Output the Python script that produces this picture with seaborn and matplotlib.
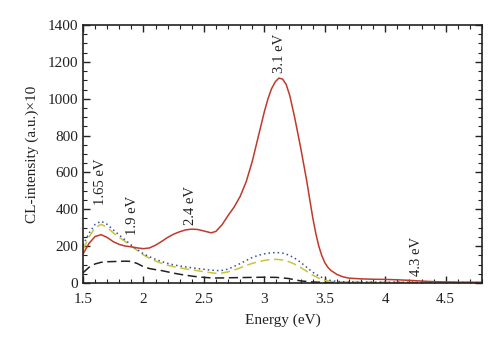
import numpy as np
import pandas as pd
import matplotlib
matplotlib.use("Agg")
import matplotlib.pyplot as plt
from matplotlib.ticker import MultipleLocator
import seaborn as sns

# Photon energy grids (eV) and CL intensities (a.u. x10) for each spectrum
red_x = [1.50, 1.55, 1.60, 1.65, 1.70, 1.75, 1.80, 1.85, 1.90, 1.95, 2.00, 2.05,
         2.10, 2.15, 2.20, 2.25, 2.30, 2.35, 2.40, 2.45, 2.50, 2.56, 2.60, 2.65,
         2.70, 2.75, 2.80, 2.85, 2.90, 2.95, 3.00, 3.03, 3.06, 3.09, 3.12, 3.15,
         3.18, 3.21, 3.25, 3.30, 3.35, 3.375, 3.40, 3.425, 3.45, 3.475, 3.50,
         3.525, 3.55, 3.60, 3.65, 3.70, 3.80, 3.90, 4.00, 4.10, 4.20, 4.30,
         4.40, 4.50, 4.60, 4.80]
red_y = [157, 215, 252, 262, 247, 224, 209, 200, 196, 190, 186, 190,
         205, 225, 247, 265, 278, 288, 292, 290, 282, 272, 280, 316,
         366, 412, 470, 550, 660, 795, 930, 1000, 1055, 1092, 1112, 1107,
         1078, 1018, 900, 735, 555, 455, 355, 270, 200, 148, 110,
         85, 68, 46, 33, 26, 22, 20, 19, 17, 14, 10,
         7, 5, 4, 3]

blue_x = [1.50, 1.55, 1.60, 1.65, 1.70, 1.75, 1.80, 1.85, 1.90, 1.95, 2.00, 2.05,
          2.10, 2.15, 2.20, 2.25, 2.30, 2.35, 2.40, 2.45, 2.50, 2.55, 2.60, 2.65,
          2.70, 2.75, 2.80, 2.85, 2.90, 2.95, 3.00, 3.05, 3.10, 3.15, 3.20, 3.25,
          3.30, 3.35, 3.40, 3.45, 3.50, 3.55, 3.60, 3.70, 4.00, 4.80]
blue_y = [205, 270, 318, 335, 318, 288, 260, 232, 205, 180, 158, 142,
          128, 116, 106, 98, 92, 87, 82, 78, 74, 70, 67, 68,
          75, 90, 105, 122, 138, 150, 158, 163, 165, 162, 152, 135,
          112, 85, 58, 38, 22, 13, 8, 5, 4, 2]

yellow_x = blue_x
yellow_y = [180, 250, 300, 318, 302, 272, 247, 224, 200, 176, 152, 134,
            119, 106, 96, 88, 82, 76, 71, 66, 61, 56, 52, 54,
            60, 70, 82, 95, 106, 115, 122, 127, 128, 125, 116, 102,
            84, 63, 42, 26, 14, 8, 5, 3, 2, 2]

black_x = [1.50, 1.55, 1.60, 1.65, 1.70, 1.75, 1.80, 1.85, 1.90, 1.95, 2.00, 2.05,
           2.10, 2.15, 2.20, 2.25, 2.30, 2.35, 2.40, 2.45, 2.50, 2.55, 2.60, 2.65,
           2.70, 2.80, 2.90, 3.00, 3.10, 3.20, 3.25, 3.30, 3.40, 3.50, 3.60, 4.80]
black_y = [55, 85, 103, 112, 115, 116, 117, 118, 117, 105, 88, 78,
           72, 67, 60, 53, 47, 42, 37, 33, 30, 28, 27, 27,
           28, 29, 30, 31, 30, 24, 17, 11, 5, 3, 2, 1]

# Peak annotations: (energy, text baseline in data units, label)
peak_x = [1.645, 1.91, 2.385, 3.125, 4.26]
peak_y = [425, 262, 317, 1140, 35]
peak_labels = ["1.65 eV", "1.9 eV", "2.4 eV", "3.1 eV", "4.3 eV"]

sns.set_theme(style="ticks")
plt.rcParams["font.family"] = ["Liberation Serif", "DejaVu Serif"]
plt.rcParams["mathtext.fontset"] = "stix"

fig = plt.figure(figsize=(5.0, 3.48), dpi=100)
ax = fig.add_axes([0.166, 0.187, 0.798, 0.741])

series = [
    (black_x, black_y, "#222222", (0, (6, 3))),
    (yellow_x, yellow_y, "#c9c43a", (0, (6, 3))),
    (blue_x, blue_y, "#3a4f9a", (0, (1, 2))),
    (red_x, red_y, "#c0392b", "-"),
]
for xs, ys, col, ls in series:
    df = pd.DataFrame({"Energy": xs, "Intensity": ys})
    sns.lineplot(data=df, x="Energy", y="Intensity", ax=ax, color=col,
                 linestyle=ls, linewidth=1.1, estimator=None, sort=True)
for ln in ax.lines:
    ln.set_solid_joinstyle("round")
    ln.set_dash_joinstyle("round")

for px, py, lab in zip(peak_x, peak_y, peak_labels):
    ax.text(px, py, lab, rotation=90, ha="center", va="bottom",
            fontsize=10.5, color="#222222")

ax.set_xlim(1.5, 4.8)
ax.set_ylim(0, 1400)
ax.xaxis.set_major_locator(MultipleLocator(0.5))
ax.xaxis.set_minor_locator(MultipleLocator(0.1))
ax.yaxis.set_major_locator(MultipleLocator(200))
ax.yaxis.set_minor_locator(MultipleLocator(50))
ax.set_xticks([1.5, 2, 2.5, 3, 3.5, 4, 4.5])
ax.set_xticklabels(["1.5", "2", "2.5", "3", "3.5", "4", "4.5"])

ax.tick_params(which="both", direction="in", top=True, right=True,
               labelsize=11, colors="#222222")
ax.tick_params(axis="x", which="major", pad=7)
ax.tick_params(which="major", length=5, width=1)
ax.tick_params(which="minor", length=3, width=0.8)
for sp in ax.spines.values():
    sp.set_linewidth(1.2)
    sp.set_color("#222222")

ax.set_xlabel("Energy (eV)", fontsize=11, color="#222222", labelpad=6)
ax.set_ylabel("CL-intensity (a.u.)×10", fontsize=11, color="#222222", labelpad=6)

fig.savefig("out.png", dpi=100)
